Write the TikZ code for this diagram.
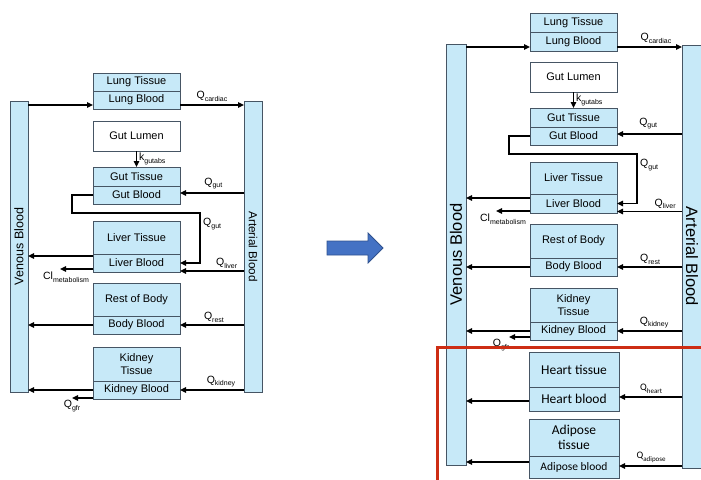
\documentclass[tikz,border=0pt]{standalone}
\usepackage{fontspec}
\setmainfont{Liberation Sans}
\newfontfamily\calibri{Carlito}
\usepackage{tikz}
\usetikzlibrary{positioning,arrows.meta}
\definecolor{boxfill}{RGB}{199,233,248}
\definecolor{boxline}{RGB}{70,85,100}
\definecolor{redframe}{RGB}{205,45,20}
\definecolor{bigarrow}{RGB}{68,114,196}
\definecolor{bigarrowline}{RGB}{47,82,143}
\newcommand{\rt}[2]{#1\raisebox{-0.5ex}{\fontsize{7}{8}\selectfont #2}}
\tikzstyle{tissue} = [rectangle, draw=boxline, fill=boxfill, line width=0.8pt, minimum width=87pt, inner sep=0pt, outer sep=0pt, text centered, align=center, font=\fontsize{11}{13}\selectfont]
\tikzstyle{lumen} = [tissue, fill=white]
\tikzstyle{vessel} = [rectangle, draw=boxline, fill=boxfill, line width=0.8pt, inner sep=0pt, outer sep=0pt]
\tikzstyle{flow} = [line width=1.3pt, -{Triangle[length=6pt,width=5.5pt]}]
\tikzstyle{rate} = [inner sep=0pt, font=\fontsize{10.5}{12}\selectfont]

\begin{document}
\begin{tikzpicture}[x=1pt,y=-1pt]
\useasboundingbox (0,0) rectangle (701,479);
%
% left model
\node (ven_L) [vessel, rotate=90, minimum width=291pt, minimum height=18pt, font=\fontsize{12.5}{14}\selectfont] at (19,246.5) {Venous Blood};
\node (art_L) [vessel, rotate=-90, minimum width=291pt, minimum height=18pt, font=\fontsize{11.7}{14}\selectfont] at (253,246.5) {Arterial Blood};
\node (lung_t_L) [tissue, minimum height=18pt, anchor=north] at (136.5,73) {Lung Tissue};
\node (lung_b_L) [tissue, minimum height=18pt, below=0pt of lung_t_L] {Lung Blood};
\node (gut_lum_L) [lumen, minimum height=30pt, anchor=north] at (136.5,121) {Gut Lumen};
\node (gut_t_L) [tissue, minimum height=19pt, anchor=north] at (136.5,167) {Gut Tissue};
\node (gut_b_L) [tissue, minimum height=18pt, below=0pt of gut_t_L] {Gut Blood};
\node (liver_t_L) [tissue, minimum height=33pt, anchor=north] at (136.5,221) {Liver Tissue};
\node (liver_b_L) [tissue, minimum height=18pt, below=0pt of liver_t_L] {Liver Blood};
\node (rest_t_L) [tissue, minimum height=33pt, anchor=north] at (136.5,283) {Rest of Body};
\node (rest_b_L) [tissue, minimum height=18pt, below=0pt of rest_t_L] {Body Blood};
\node (kid_t_L) [tissue, minimum height=34pt, anchor=north] at (136.5,347) {Kidney\\Tissue};
\node (kid_b_L) [tissue, minimum height=18pt, below=0pt of kid_t_L] {Kidney Blood};
\coordinate (gut_turn1_L) at (72,213);
\coordinate (gut_turn2_L) at (200,213);
%
\draw [flow] ([yshift=-5pt]lung_b_L.west -| ven_L.south) -- ([yshift=-5pt]lung_b_L.west);
\draw [flow] ([yshift=-5pt]lung_b_L.east) -- ([yshift=-5pt]lung_b_L.east -| art_L.south) node[rate, midway, above=3pt] {\rt{Q}{cardiac}};
\draw [flow] (gut_lum_L) -- (gut_t_L) node[rate, midway, right=2pt] {\rt{k}{gutabs}};
\draw [flow] ([yshift=2pt]gut_b_L.east -| art_L.south) -- ([yshift=2pt]gut_b_L.east) node[rate, pos=0.48, above=3pt] {\rt{Q}{gut}};
\draw [flow] (gut_b_L.west) -| (gut_turn1_L) -- (gut_turn2_L) |- (liver_b_L.east);
\node (qgut2_L) [rate, anchor=west] at (203,224) {\rt{Q}{gut}};
\draw [flow] ([yshift=-8pt]liver_b_L.east -| art_L.south) -- ([yshift=-8pt]liver_b_L.east) node[rate, pos=0.27, above=2pt] {\rt{Q}{liver}};
\draw [flow] ([yshift=-2pt]liver_b_L.north west) -- ([yshift=-2pt]liver_b_L.north west -| ven_L.south);
\draw [flow] ([yshift=-6pt]liver_b_L.west) -- ++(-33,0) node[rate, below=2pt, xshift=6pt] {\rt{Cl}{metabolism}};
\draw [flow] (rest_b_L.east -| art_L.south) -- (rest_b_L.east) node[rate, pos=0.47, above=2pt] {\rt{Q}{rest}};
\draw [flow] (rest_b_L.west) -- (rest_b_L.west -| ven_L.south);
\draw [flow] (kid_b_L.east -| art_L.south) -- (kid_b_L.east) node[rate, pos=0.36, above=2pt] {\rt{Q}{kidney}};
\draw [flow] (kid_b_L.west) -- (kid_b_L.west -| ven_L.south);
\draw [flow] ([yshift=-8pt]kid_b_L.west) -- ++(-21,0) node[rate, below=2pt] {\rt{Q}{gfr}};
%
% big arrow
\filldraw [fill=bigarrow, draw=bigarrowline, line width=0.8pt] (327,241) -- (368,241) -- (368,233) -- (383,248) -- (368,263) -- (368,255) -- (327,255) -- cycle;
%
% right model
\node (ven_R) [vessel, rotate=90, minimum width=421pt, minimum height=20pt, font=\fontsize{16.5}{18}\selectfont] at (456,254.5) {Venous Blood};
\node (art_R) [vessel, rotate=-90, minimum width=423pt, minimum height=20pt, font=\fontsize{16.5}{18}\selectfont] at (692,256.5) {Arterial Blood};
\node (lung_t_R) [tissue, minimum height=19pt, anchor=north] at (573.5,13) {Lung Tissue};
\node (lung_b_R) [tissue, minimum height=19pt, below=0pt of lung_t_R] {Lung Blood};
\node (gut_lum_R) [lumen, minimum height=30pt, anchor=north] at (573.5,62) {Gut Lumen};
\node (gut_t_R) [tissue, minimum height=19pt, anchor=north] at (573.5,108) {Gut Tissue};
\node (gut_b_R) [tissue, minimum height=18pt, below=0pt of gut_t_R] {Gut Blood};
\node (liver_t_R) [tissue, minimum height=32pt, anchor=north] at (573.5,162) {Liver Tissue};
\node (liver_b_R) [tissue, minimum height=19pt, below=0pt of liver_t_R] {Liver Blood};
\node (rest_t_R) [tissue, minimum height=34pt, anchor=north] at (573.5,224) {Rest of Body};
\node (rest_b_R) [tissue, minimum height=18pt, below=0pt of rest_t_R] {Body Blood};
\node (kid_t_R) [tissue, minimum height=34pt, anchor=north] at (573.5,288) {Kidney\\Tissue};
\node (kid_b_R) [tissue, minimum height=18pt, below=0pt of kid_t_R] {Kidney Blood};
\node (heart_t_R) [tissue, minimum width=90pt, minimum height=35pt, anchor=north, font=\calibri\fontsize{13.5}{15}\selectfont] at (574,352) {Heart tissue};
\node (heart_b_R) [tissue, minimum width=90pt, minimum height=24pt, below=0pt of heart_t_R, font=\calibri\fontsize{13.5}{15}\selectfont] {Heart blood};
\node (adip_t_R) [tissue, minimum width=90pt, minimum height=37pt, anchor=north, font=\calibri\fontsize{13.5}{15}\selectfont] at (574,419) {Adipose\\tissue};
\node (adip_b_R) [tissue, minimum width=90pt, minimum height=22pt, below=0pt of adip_t_R, font=\calibri\fontsize{11.5}{13}\selectfont] {Adipose blood};
\coordinate (gut_turn1_R) at (509,154);
\coordinate (gut_turn2_R) at (637,154);
%
\draw [flow] ([yshift=-5.5pt]lung_b_R.west -| ven_R.south) -- ([yshift=-5.5pt]lung_b_R.west);
\draw [flow] ([yshift=-5.5pt]lung_b_R.east) -- ([yshift=-5.5pt]lung_b_R.east -| art_R.south) node[rate, pos=0.6, above=3pt] {\rt{Q}{cardiac}};
\draw [flow] (gut_lum_R) -- (gut_t_R) node[rate, midway, right=2pt] {\rt{k}{gutabs}};
\draw [flow] ([yshift=2pt]gut_b_R.east -| art_R.south) -- ([yshift=2pt]gut_b_R.east) node[rate, pos=0.52, above=4pt] {\rt{Q}{gut}};
\draw [flow] (gut_b_R.west) -| (gut_turn1_R) -- (gut_turn2_R) |- (liver_b_R.east);
\node (qgut2_R) [rate, anchor=west] at (640,165) {\rt{Q}{gut}};
\draw [flow] ([yshift=-8pt]liver_b_R.east -| art_R.south) -- ([yshift=-8pt]liver_b_R.east) node[rate, pos=0.26, above=2pt] {\rt{Q}{liver}};
\draw [flow] ([yshift=-4pt]liver_b_R.north west) -- ([yshift=-4pt]liver_b_R.north west -| ven_R.south);
\draw [flow] ([yshift=-7.5pt]liver_b_R.west) -- ++(-34,0) node[rate, below=2pt, xshift=7pt] {\rt{Cl}{metabolism}};
\draw [flow] (rest_b_R.east -| art_R.south) -- (rest_b_R.east) node[rate, pos=0.49, above=2pt] {\rt{Q}{rest}};
\draw [flow] (rest_b_R.west) -- (rest_b_R.west -| ven_R.south);
\draw [flow] (kid_b_R.east -| art_R.south) -- (kid_b_R.east) node[rate, pos=0.43, above=2pt] {\rt{Q}{kidney}};
\draw [flow] (kid_b_R.west) -- (kid_b_R.west -| ven_R.south);
\draw [flow] ([yshift=-6pt]kid_b_R.west) -- ++(-21,0) node[rate, below=2pt, xshift=-8pt] {\rt{Q}{gfr}};
\draw [flow] ([yshift=2pt]heart_b_R.east -| art_R.south) -- ([yshift=2pt]heart_b_R.east) node[rate, pos=0.49, above=3pt, font=\calibri\fontsize{10}{12}\selectfont] {\rt{Q}{heart}};
\draw [flow] ([yshift=-2pt]heart_b_R.west) -- ([yshift=-2pt]heart_b_R.west -| ven_R.south);
\draw [flow] ([yshift=1pt]adip_b_R.east -| art_R.south) -- ([yshift=1pt]adip_b_R.east) node[rate, pos=0.49, above=3pt, font=\calibri\fontsize{10}{12}\selectfont] {\rt{Q}{adipose}};
\draw [flow] ([yshift=5pt]adip_b_R.west) -- ([yshift=5pt]adip_b_R.west -| ven_R.south);
%
% new compartments
\draw [redframe, line width=3pt] (710,347) -- (437,347) -- (437,490);
%
\end{tikzpicture}
\end{document}
